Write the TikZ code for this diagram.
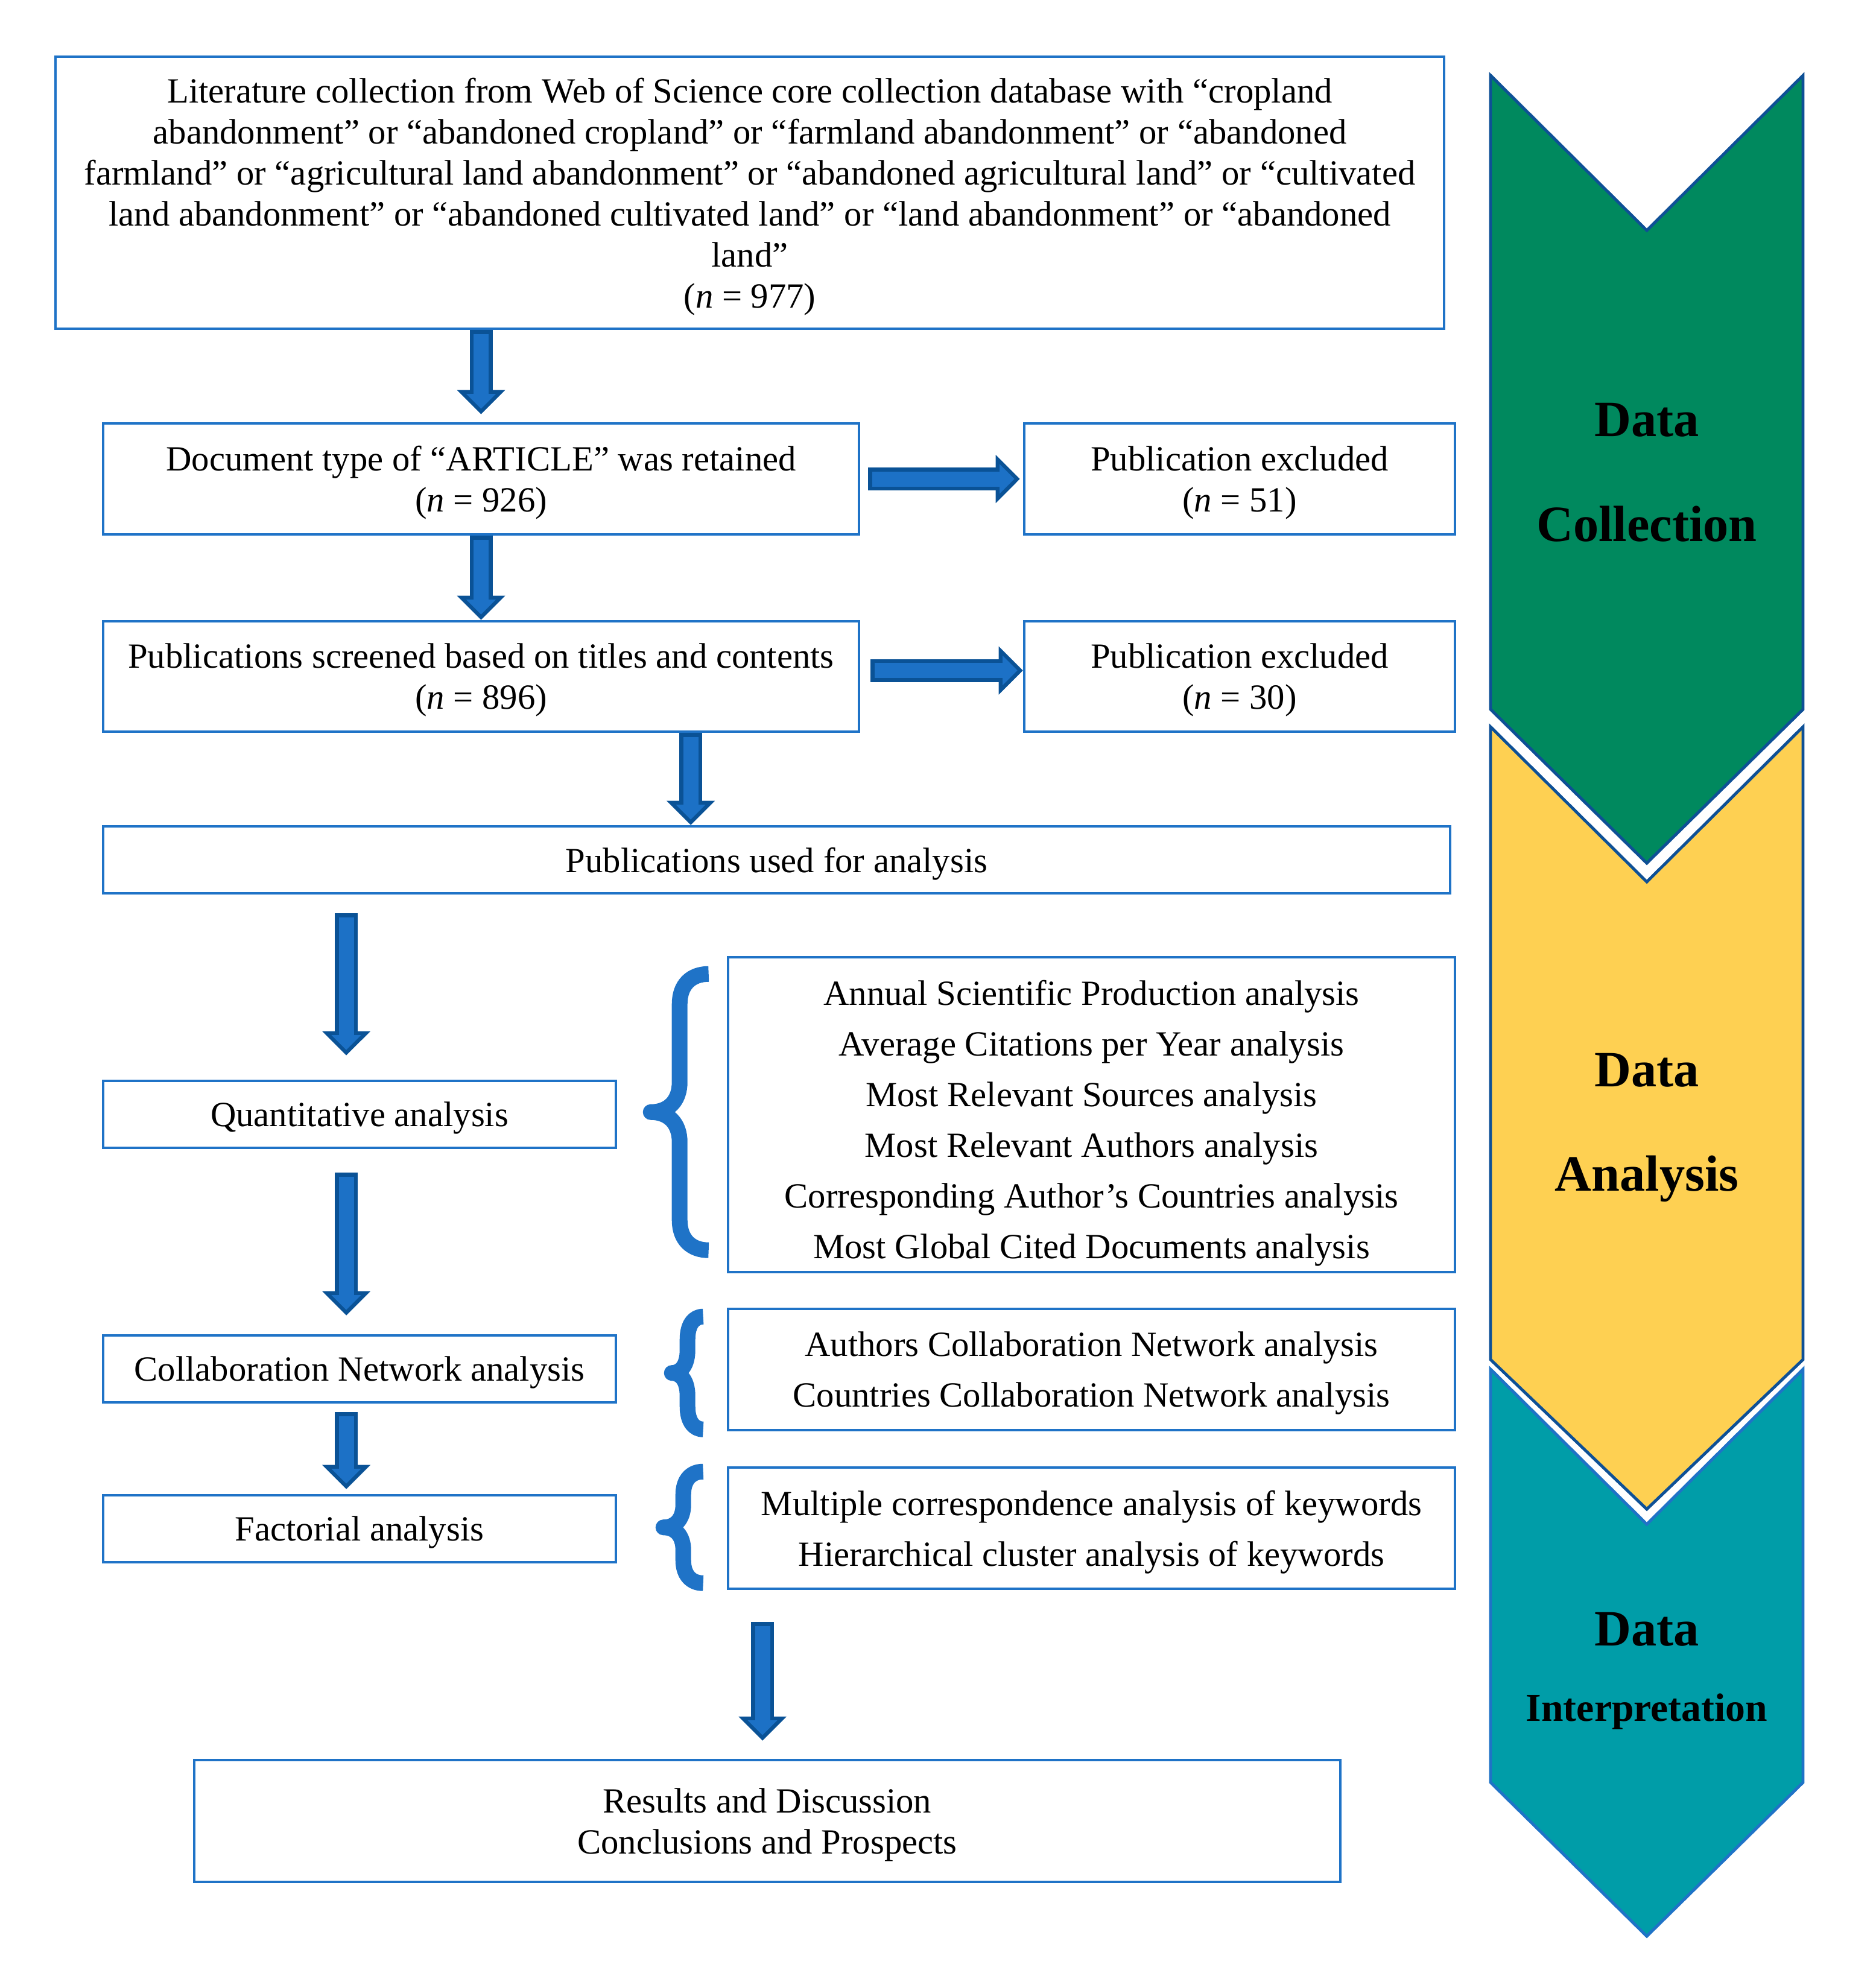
\documentclass[tikz,border=0pt]{standalone}
\usepackage{fontspec}
\setmainfont{Liberation Serif}
\usetikzlibrary{arrows.meta,positioning,calc}

\definecolor{boxblue}{RGB}{31,115,199}
\definecolor{arrfill}{RGB}{28,113,198}
\definecolor{arrline}{RGB}{10,82,150}
\definecolor{chgreen}{RGB}{0,137,94}
\definecolor{chyellow}{RGB}{254,208,82}
\definecolor{chteal}{RGB}{0,157,168}
\definecolor{chline}{RGB}{14,80,150}

\begin{document}
\begin{tikzpicture}[
    frame/.style={draw=boxblue, line width=1.3pt, align=center, inner sep=0pt, text depth=0pt},
    box/.style={frame, font=\fontsize{16.7}{19.35}\selectfont},
    lst/.style={frame, font=\fontsize{16.7}{23.9}\selectfont},
    blk/.style={line width=0.38cm, draw=arrline, -{Triangle[width=0.80cm, length=0.40cm, line width=0pt]},
        postaction={draw=arrfill, line width=0.25cm, shorten <=0.065cm, -{Triangle[width=0.49cm, length=0.245cm, line width=0pt, sep=0.092cm]}}},
    brcline/.style={draw=boxblue, line width=0.26cm, line join=round},
    pics/lbrc/.style n args={3}{code={
        \draw[brcline] (0,0) .. controls ({-0.3*#2},0) and ({-0.5*#2},{-0.35*#3}) .. ({-0.5*#2},{-#3})
            -- ({-0.5*#2},{-#1/2+#3}) .. controls ({-0.5*#2},{-#1/2+0.35*#3}) and ({-0.7*#2},{-#1/2}) .. ({-#2},{-#1/2})
            .. controls ({-0.7*#2},{-#1/2}) and ({-0.5*#2},{-#1/2-0.35*#3}) .. ({-0.5*#2},{-#1/2-#3})
            -- ({-0.5*#2},{-#1+#3}) .. controls ({-0.5*#2},{-#1+0.35*#3}) and ({-0.3*#2},{-#1}) .. (0,{-#1});
    }},
    chev/.style={draw=chline, line width=1.4pt},
    phase/.style={anchor=base, font=\fontsize{24}{28}\selectfont\bfseries},
    phasesm/.style={anchor=base, font=\fontsize{18.7}{22}\selectfont\bfseries}
]
\useasboundingbox (0,0) rectangle (31.10,-32.76);

% stage chevrons
\path[chev, fill=chgreen] (24.71,-1.25) -- (27.30,-3.82) -- (29.89,-1.25) -- (29.89,-11.76) -- (27.30,-14.31) -- (24.71,-11.76) -- cycle;
\path[chev, fill=chyellow] (24.71,-12.05) -- (27.30,-14.62) -- (29.89,-12.05) -- (29.89,-22.54) -- (27.30,-25.02) -- (24.71,-22.54) -- cycle;
\path[chev, draw=boxblue, fill=chteal] (24.71,-22.70) -- (27.30,-25.27) -- (29.89,-22.70) -- (29.89,-29.55) -- (27.30,-32.10) -- (24.71,-29.55) -- cycle;

\node[phase] (dcA) at (27.30,-7.23) {Data};
\node[phase] (dcB) at (27.30,-8.97) {Collection};
\node[phase] (daA) at (27.30,-18.01) {Data};
\node[phase] (daB) at (27.30,-19.74) {Analysis};
\node[phase] (diA) at (27.30,-27.28) {Data};
\node[phasesm] (diB) at (27.30,-28.53) {Interpretation};

% flow boxes
\node[box, minimum width=23.02cm, minimum height=4.51cm] (lit) at (12.43,-3.195)
    {Literature collection from Web of Science core collection database with “cropland\\
     abandonment” or “abandoned cropland” or “farmland abandonment” or “abandoned\\
     farmland” or “agricultural land abandonment” or “abandoned agricultural land” or “cultivated\\
     land abandonment” or “abandoned cultivated land” or “land abandonment” or “abandoned\\
     land”\\
     (\textit{n} = 977)};
\node[box, minimum width=12.53cm, minimum height=1.84cm] (doc) at (7.975,-7.94) {Document type of “ARTICLE” was retained\\(\textit{n} = 926)};
\node[box, minimum width=7.14cm, minimum height=1.84cm] (exa) at (20.55,-7.94) {Publication excluded\\(\textit{n} = 51)};
\node[box, minimum width=12.53cm, minimum height=1.83cm] (scr) at (7.975,-11.215) {Publications screened based on titles and contents\\(\textit{n} = 896)};
\node[box, minimum width=7.14cm, minimum height=1.83cm] (exb) at (20.55,-11.215) {Publication excluded\\(\textit{n} = 30)};
\node[box, minimum width=22.33cm, minimum height=1.11cm] (used) at (12.875,-14.255) {Publications used for analysis};

\node[box, minimum width=8.5cm, minimum height=1.11cm] (quant) at (5.96,-18.475) {Quantitative analysis};
\node[box, minimum width=8.5cm, minimum height=1.11cm] (coll) at (5.96,-22.695) {Collaboration Network analysis};
\node[box, minimum width=8.5cm, minimum height=1.11cm] (fact) at (5.96,-25.345) {Factorial analysis};

\node[lst, minimum width=12.05cm, minimum height=5.22cm] (lsa) at (18.095,-18.48)
    {\rule{0pt}{0.57cm}Annual Scientific Production analysis\\Average Citations per Year analysis\\Most Relevant Sources analysis\\
     Most Relevant Authors analysis\\Corresponding Author’s Countries analysis\\Most Global Cited Documents analysis};
\node[lst, minimum width=12.05cm, minimum height=2.01cm] (lsb) at (18.095,-22.705)
    {Authors Collaboration Network analysis\\Countries Collaboration Network analysis};
\node[lst, minimum width=12.05cm, minimum height=2.01cm] (lsc) at (18.095,-25.335)
    {Multiple correspondence analysis of keywords\\Hierarchical cluster analysis of keywords};

\node[box, minimum width=19.0cm, minimum height=2.02cm] (res) at (12.72,-30.19) {Results and Discussion\\Conclusions and Prospects};

% braces
\pic at ($(lsa.north west)+(-0.30,-0.30)$) {lbrc={4.58}{0.96}{0.5}};
\pic at ($(lsb.north west)+(-0.39,-0.15)$) {lbrc={1.87}{0.52}{0.38}};
\pic at ($(lsc.north west)+(-0.39,-0.09)$) {lbrc={1.85}{0.66}{0.38}};

% block arrows
\draw[blk] (lit.south -| doc.north) -- ($(doc.north)+(0,0.13)$);
\draw[blk] (doc.south) -- (scr.north);
\draw[blk] ($(scr.south)+(3.475,0)$) -- ($(scr.south |- used.north)+(3.475,0)$);
\draw[blk] ($(quant.north |- used.south)+(-0.22,-0.31)$) -- ($(quant.north)+(-0.22,0.40)$);
\draw[blk] ($(quant.south)+(-0.22,-0.39)$) -- ($(coll.north)+(-0.22,0.31)$);
\draw[blk] ($(coll.south)+(-0.22,-0.14)$) -- ($(fact.north)+(-0.22,0.08)$);
\draw[blk] ($(res.north |- lsc.south)+(-0.08,-0.53)$) -- ($(res.north)+(-0.08,0.30)$);
\draw[blk] ($(doc.east)+(0.13,0)$) -- ($(exa.west)+(-0.05,0)$);
\draw[blk] ($(scr.east)+(0.17,0.10)$) -- ($(exb.west)+(0,0.10)$);
\end{tikzpicture}
\end{document}
